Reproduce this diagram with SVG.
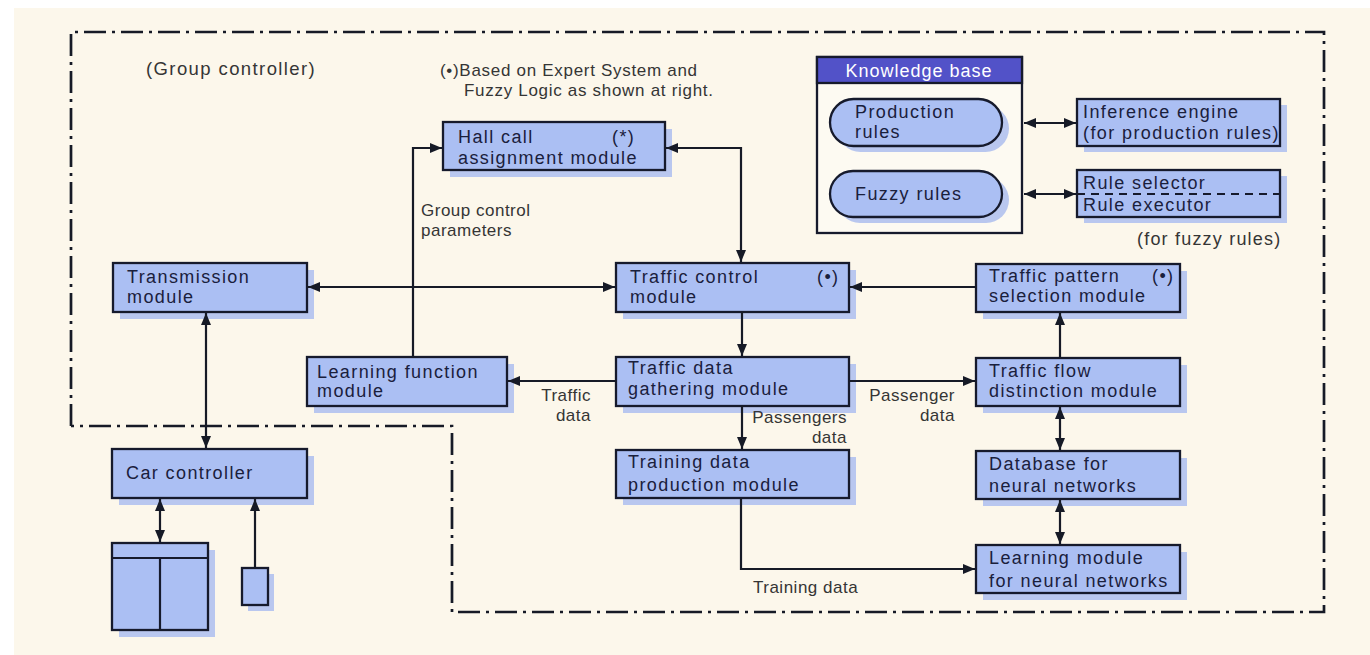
<svg xmlns="http://www.w3.org/2000/svg" width="1370" height="655" viewBox="0 0 1370 655">
<defs>
<marker id="ah" viewBox="0 0 12 10" refX="12" refY="5" markerWidth="12" markerHeight="10" markerUnits="userSpaceOnUse" orient="auto-start-reverse">
<path d="M0,0 L12,5 L0,10 z" fill="#161a26"/>
</marker>
<style>
.bx{fill:#abbff3;stroke:#161a2c;stroke-width:2.3}
.sh{fill:#b9c7ef}
.t{font-family:"Liberation Sans",Arial,sans-serif;font-size:18px;letter-spacing:1.4px;fill:#1a203c}
.l{font-family:"Liberation Sans",Arial,sans-serif;font-size:17px;letter-spacing:0.5px;fill:#353535}
.c{fill:none;stroke:#161a26;stroke-width:2.2}
.b{fill:none;stroke:#161a26;stroke-width:2.7;stroke-dasharray:22 6 3 6}
</style>
</defs>
<rect x="0" y="0" width="1370" height="655" fill="#ffffff"/>
<rect x="14" y="8" width="1356" height="647" fill="#fcf7eb"/>

<path class="b" d="M71,426 V32 H1324 V612 H452 V426 H71"/>

<text class="l" x="146" y="75" style="font-size:18.5px;letter-spacing:1.4px">(Group controller)</text>
<text class="l" x="440" y="76" style="letter-spacing:0.7px">(•)Based on Expert System and</text>
<text class="l" x="464" y="96" style="letter-spacing:0.7px">Fuzzy Logic as shown at right.</text>

<g id="knowledge-base">
<rect x="817" y="57" width="205" height="176" fill="#fdfaf2" stroke="#161a2c" stroke-width="2.3"/>
<rect x="817" y="57" width="205" height="26" fill="#5252c8" stroke="#161a2c" stroke-width="2.3"/>
<text x="919" y="77" text-anchor="middle" style="font-family:'Liberation Sans',Arial,sans-serif;font-size:18px;letter-spacing:1px;fill:#ffffff">Knowledge base</text>
</g>
<g id="production-rules">
<rect class="sh" x="837" y="105" width="172" height="47" rx="23.5"/>
<rect class="bx" x="830" y="99" width="172" height="47" rx="23.5"/>
<text class="t" x="855" y="118">Production</text>
<text class="t" x="855" y="138">rules</text>
</g>
<g id="fuzzy-rules">
<rect class="sh" x="837" y="177" width="172" height="46" rx="23"/>
<rect class="bx" x="830" y="171" width="172" height="46" rx="23"/>
<text class="t" x="855" y="200">Fuzzy rules</text>
</g>
<g id="inference-engine">
<rect class="sh" x="1084" y="105" width="203" height="47"/>
<rect class="bx" x="1077" y="99" width="203" height="47"/>
<text class="t" x="1083" y="118">Inference engine</text>
<text class="t" x="1083" y="139">(for production rules)</text>
</g>
<g id="rule-selector-executor">
<rect class="sh" x="1084" y="176" width="203" height="47"/>
<rect class="bx" x="1077" y="170" width="203" height="47"/>
<line x1="1077" y1="194" x2="1280" y2="194" stroke="#161a2c" stroke-width="2" stroke-dasharray="8 6"/>
<text class="t" x="1083" y="189">Rule selector</text>
<text class="t" x="1083" y="211">Rule executor</text>
</g>
<text class="l" x="1137" y="245" style="font-size:18px;letter-spacing:1.2px">(for fuzzy rules)</text>

<g id="hall-call">
<rect class="sh" x="450" y="129" width="222" height="48"/>
<rect class="bx" x="443" y="122" width="222" height="48"/>
<text class="t" x="458" y="143">Hall call</text>
<text class="t" x="612" y="143">(*)</text>
<text class="t" x="458" y="164">assignment module</text>
</g>
<g id="transmission">
<rect class="sh" x="120" y="270" width="194" height="49"/>
<rect class="bx" x="113" y="263" width="194" height="49"/>
<text class="t" x="127" y="283">Transmission</text>
<text class="t" x="127" y="303">module</text>
</g>
<g id="traffic-control">
<rect class="sh" x="623" y="270" width="233" height="49"/>
<rect class="bx" x="616" y="263" width="233" height="49"/>
<text class="t" x="630" y="283">Traffic control</text>
<text class="t" x="817" y="283">(•)</text>
<text class="t" x="630" y="303">module</text>
</g>
<g id="traffic-pattern">
<rect class="sh" x="983" y="271" width="204" height="48"/>
<rect class="bx" x="976" y="264" width="204" height="48"/>
<text class="t" x="989" y="282">Traffic pattern</text>
<text class="t" x="1152" y="282">(•)</text>
<text class="t" x="989" y="302">selection module</text>
</g>
<g id="learning-function">
<rect class="sh" x="314" y="364" width="200" height="49"/>
<rect class="bx" x="307" y="357" width="200" height="49"/>
<text class="t" x="317" y="378">Learning function</text>
<text class="t" x="317" y="397">module</text>
</g>
<g id="traffic-data-gathering">
<rect class="sh" x="623" y="364" width="233" height="49"/>
<rect class="bx" x="616" y="357" width="233" height="49"/>
<text class="t" x="628" y="374">Traffic data</text>
<text class="t" x="628" y="395">gathering module</text>
</g>
<g id="traffic-flow">
<rect class="sh" x="983" y="365" width="204" height="48"/>
<rect class="bx" x="976" y="358" width="204" height="48"/>
<text class="t" x="989" y="377">Traffic flow</text>
<text class="t" x="989" y="397">distinction module</text>
</g>
<g id="training-data-production">
<rect class="sh" x="623" y="457" width="233" height="48"/>
<rect class="bx" x="616" y="450" width="233" height="48"/>
<text class="t" x="628" y="468">Training data</text>
<text class="t" x="628" y="491">production module</text>
</g>
<g id="database">
<rect class="sh" x="983" y="458" width="204" height="48"/>
<rect class="bx" x="976" y="451" width="204" height="48"/>
<text class="t" x="989" y="470">Database for</text>
<text class="t" x="989" y="492">neural networks</text>
</g>
<g id="learning-module">
<rect class="sh" x="983" y="552" width="204" height="48"/>
<rect class="bx" x="976" y="545" width="204" height="48"/>
<text class="t" x="989" y="564">Learning module</text>
<text class="t" x="989" y="587">for neural networks</text>
</g>
<g id="car-controller">
<rect class="sh" x="119" y="456" width="195" height="49"/>
<rect class="bx" x="112" y="449" width="195" height="49"/>
<text class="t" x="126" y="479">Car controller</text>
</g>
<g id="car-panel">
<rect class="sh" x="119" y="550" width="96" height="87"/>
<rect class="bx" x="112" y="543" width="96" height="87"/>
<line x1="112" y1="558" x2="208" y2="558" stroke="#161a2c" stroke-width="2.2"/>
<line x1="160" y1="558" x2="160" y2="630" stroke="#161a2c" stroke-width="2.2"/>
</g>
<g id="sensor">
<rect class="sh" x="248" y="574" width="26" height="37"/>
<rect class="bx" x="242" y="568" width="26" height="37"/>
</g>

<g id="connectors">
<path class="c" d="M666,148 H741 V262" marker-start="url(#ah)" marker-end="url(#ah)"/>
<path class="c" d="M413,357 V148 H442" marker-end="url(#ah)"/>
<path class="c" d="M308,287 H615" marker-start="url(#ah)" marker-end="url(#ah)"/>
<path class="c" d="M976,287 H850" marker-end="url(#ah)"/>
<path class="c" d="M742,312 V356" marker-end="url(#ah)"/>
<path class="c" d="M616,381 H508" marker-end="url(#ah)"/>
<path class="c" d="M849,381 H975" marker-end="url(#ah)"/>
<path class="c" d="M742,406 V449" marker-end="url(#ah)"/>
<path class="c" d="M741,498 V569 H975" marker-end="url(#ah)"/>
<path class="c" d="M1060,358 V313" marker-end="url(#ah)"/>
<path class="c" d="M1060,407 V450" marker-start="url(#ah)" marker-end="url(#ah)"/>
<path class="c" d="M1060,500 V544" marker-start="url(#ah)" marker-end="url(#ah)"/>
<path class="c" d="M206,313 V448" marker-start="url(#ah)" marker-end="url(#ah)"/>
<path class="c" d="M160,499 V542" marker-start="url(#ah)" marker-end="url(#ah)"/>
<path class="c" d="M255,568 V499" marker-end="url(#ah)"/>
<path class="c" d="M1024,123 H1076" marker-start="url(#ah)" marker-end="url(#ah)"/>
<path class="c" d="M1024,194 H1076" marker-start="url(#ah)" marker-end="url(#ah)"/>
<text class="l" x="421" y="216">Group control</text>
<text class="l" x="421" y="236">parameters</text>
<text class="l" x="591" y="401" text-anchor="end">Traffic</text>
<text class="l" x="591" y="421" text-anchor="end">data</text>
<text class="l" x="847" y="423" text-anchor="end">Passengers</text>
<text class="l" x="847" y="443" text-anchor="end">data</text>
<text class="l" x="955" y="401" text-anchor="end">Passenger</text>
<text class="l" x="955" y="421" text-anchor="end">data</text>
<text class="l" x="753" y="593">Training data</text>
</g>
</svg>
